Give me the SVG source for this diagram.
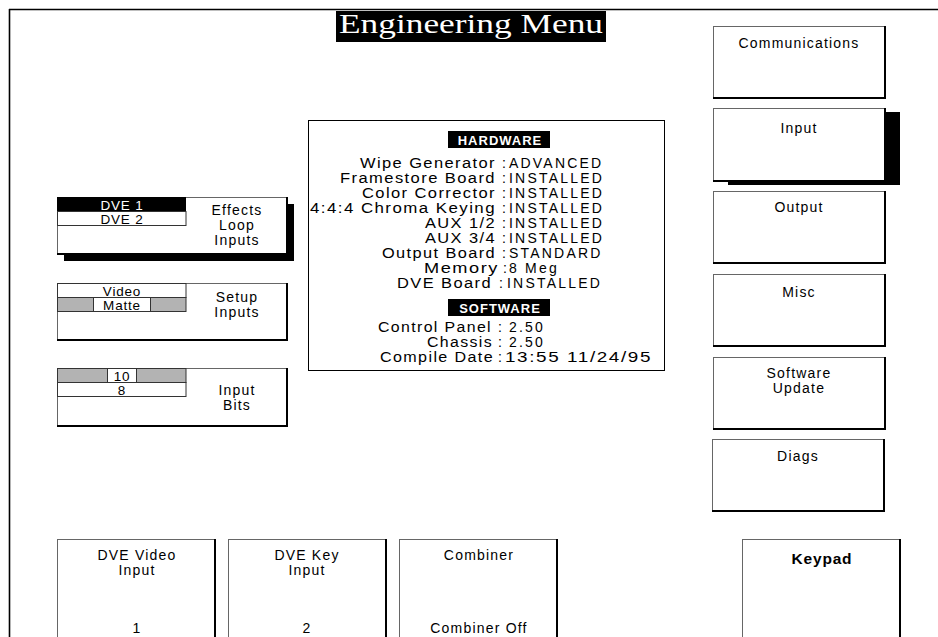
<svg xmlns="http://www.w3.org/2000/svg" width="938" height="637" viewBox="0 0 938 637">
<style>
.frame{fill:none;stroke:#000;stroke-width:1.6}
.box{fill:#fff;stroke:#666;stroke-width:1}
.edge{fill:none;stroke:#000;stroke-width:2}
.shadow{fill:#000}
.lbl{font-family:"Liberation Sans",Arial,sans-serif;font-size:14px;letter-spacing:1.2px;fill:#000;text-anchor:middle}
.cell{font-family:"Liberation Sans",Arial,sans-serif;font-size:13.5px;letter-spacing:0.8px;fill:#000;text-anchor:middle}
.hw{font-family:"Liberation Sans",Arial,sans-serif;font-size:14px;letter-spacing:2.2px;fill:#000}
.fit{letter-spacing:1.2px;font-size:14px}
.tag{font-family:"Liberation Sans",Arial,sans-serif;font-size:13px;font-weight:bold;letter-spacing:1px;fill:#fff;text-anchor:middle}
.row{stroke:#333;stroke-width:1}
.grey{fill:#b3b3b3}
.white{fill:#fff}
</style>

<g id="frame">
<line class="frame" x1="9" y1="9.5" x2="938" y2="9.5"/>
<line class="frame" x1="9.5" y1="9" x2="9.5" y2="637"/>
</g>

<g id="title">
<rect x="336" y="11" width="270" height="31" fill="#000"/>
<text x="339" y="33" font-family="'Liberation Serif',serif" font-size="28" fill="#fff" textLength="264" lengthAdjust="spacingAndGlyphs">Engineering Menu</text>
</g>

<g id="info-panel">
<rect x="308.5" y="120.5" width="356" height="250" fill="#fff" stroke="#000" stroke-width="1"/>
<rect x="448" y="131" width="102" height="17" fill="#000"/>
<text class="tag" x="500" y="144.5">HARDWARE</text>
<g class="hw">
<text class="fit" x="360" y="168" textLength="136" lengthAdjust="spacingAndGlyphs">Wipe Generator</text><text x="502" y="168">:</text><text x="509" y="168">ADVANCED</text>
<text class="fit" x="340" y="183" textLength="156" lengthAdjust="spacingAndGlyphs">Framestore Board</text><text x="502" y="183">:</text><text x="509" y="183">INSTALLED</text>
<text class="fit" x="362" y="198" textLength="134" lengthAdjust="spacingAndGlyphs">Color Corrector</text><text x="502" y="198">:</text><text x="509" y="198">INSTALLED</text>
<text class="fit" x="310" y="213" textLength="186" lengthAdjust="spacingAndGlyphs">4:4:4 Chroma Keying</text><text x="502" y="213">:</text><text x="509" y="213">INSTALLED</text>
<text class="fit" x="425" y="228" textLength="71" lengthAdjust="spacingAndGlyphs">AUX 1/2</text><text x="502" y="228">:</text><text x="509" y="228">INSTALLED</text>
<text class="fit" x="425" y="243" textLength="71" lengthAdjust="spacingAndGlyphs">AUX 3/4</text><text x="502" y="243">:</text><text x="509" y="243">INSTALLED</text>
<text class="fit" x="382" y="258" textLength="114" lengthAdjust="spacingAndGlyphs">Output Board</text><text x="502" y="258">:</text><text x="509" y="258">STANDARD</text>
<text class="fit" x="424" y="273" textLength="75" lengthAdjust="spacingAndGlyphs">Memory</text><text x="503" y="273">:</text><text x="509" y="273">8 Meg</text>
<text class="fit" x="397" y="288" textLength="95" lengthAdjust="spacingAndGlyphs">DVE Board</text><text x="499" y="288">:</text><text x="507" y="288">INSTALLED</text>
</g>
<rect x="448" y="299" width="102" height="17" fill="#000"/>
<text class="tag" x="500" y="312.5">SOFTWARE</text>
<g class="hw">
<text class="fit" x="378" y="332" textLength="114" lengthAdjust="spacingAndGlyphs">Control Panel</text><text x="498" y="332">:</text><text x="509" y="332">2.50</text>
<text class="fit" x="427" y="347" textLength="66" lengthAdjust="spacingAndGlyphs">Chassis</text><text x="498" y="347">:</text><text x="509" y="347">2.50</text>
<text class="fit" x="380" y="362" textLength="114" lengthAdjust="spacingAndGlyphs">Compile Date</text><text x="498" y="362">:</text><text class="fit" x="505" y="362" textLength="147" lengthAdjust="spacingAndGlyphs">13:55 11/24/95</text>
</g>
</g>

<g id="effects-loop-inputs">
<rect class="shadow" x="64" y="204" width="230" height="57"/>
<rect class="box" x="57.5" y="197.5" width="229" height="56"/>
<polyline class="edge" points="287,197 287,254 57,254"/>
<rect x="57" y="197" width="129" height="14" fill="#000"/>
<rect class="row white" x="57.5" y="211.5" width="128.5" height="14"/>
<text class="cell" x="122" y="209.5" style="fill:#fff">DVE 1</text>
<text class="cell" x="122" y="223.5">DVE 2</text>
<text class="lbl" x="237" y="215">Effects</text>
<text class="lbl" x="237" y="230">Loop</text>
<text class="lbl" x="237" y="245">Inputs</text>
</g>

<g id="setup-inputs">
<rect class="box" x="57.5" y="283.5" width="229" height="56"/>
<polyline class="edge" points="287,283 287,340 57,340"/>
<rect class="row white" x="57.5" y="283.5" width="128.5" height="14"/>
<rect class="row grey" x="57.5" y="297.5" width="128.5" height="14"/>
<rect class="row white" x="93.5" y="297.5" width="57" height="14"/>
<text class="cell" x="122" y="295.5">Video</text>
<text class="cell" x="122" y="309.5">Matte</text>
<text class="lbl" x="237" y="302">Setup</text>
<text class="lbl" x="237" y="317">Inputs</text>
</g>

<g id="input-bits">
<rect class="box" x="57.5" y="368.5" width="229" height="57"/>
<polyline class="edge" points="287,368 287,426 57,426"/>
<rect class="row grey" x="57.5" y="368.5" width="128.5" height="14"/>
<rect class="row white" x="107.5" y="368.5" width="29" height="14"/>
<rect class="row white" x="57.5" y="382.5" width="128.5" height="14"/>
<text class="cell" x="122" y="380.5">10</text>
<text class="cell" x="122" y="394.5">8</text>
<text class="lbl" x="237" y="395">Input</text>
<text class="lbl" x="237" y="410">Bits</text>
</g>

<g id="communications">
<rect class="box" x="713.5" y="26.5" width="171" height="71"/>
<polyline class="edge" points="885,26 885,98 713,98"/>
<text class="lbl" x="799" y="48">Communications</text>
</g>

<g id="input">
<rect class="shadow" x="728" y="112" width="172" height="73"/>
<rect class="box" x="713.5" y="108.5" width="171" height="72"/>
<polyline class="edge" points="885,108 885,181 713,181"/>
<text class="lbl" x="799" y="133">Input</text>
</g>

<g id="output">
<rect class="box" x="713.5" y="191.5" width="171" height="71"/>
<polyline class="edge" points="885,191 885,263 713,263"/>
<text class="lbl" x="799" y="212">Output</text>
</g>

<g id="misc">
<rect class="box" x="713.5" y="274.5" width="171" height="71"/>
<polyline class="edge" points="885,274 885,346 713,346"/>
<text class="lbl" x="799" y="297">Misc</text>
</g>

<g id="software-update">
<rect class="box" x="713.5" y="357.5" width="171" height="71"/>
<polyline class="edge" points="885,357 885,429 713,429"/>
<text class="lbl" x="799" y="378">Software</text>
<text class="lbl" x="799" y="393">Update</text>
</g>

<g id="diags">
<rect class="box" x="712.5" y="439.5" width="171" height="71"/>
<polyline class="edge" points="884,439 884,511 712,511"/>
<text class="lbl" x="798" y="461">Diags</text>
</g>

<g id="dve-video-input">
<rect class="box" x="57.5" y="539.5" width="157" height="110"/>
<line class="edge" x1="215" y1="539" x2="215" y2="637"/>
<text class="lbl" x="137" y="560">DVE Video</text>
<text class="lbl" x="137" y="575">Input</text>
<text class="lbl" x="137" y="633">1</text>
</g>

<g id="dve-key-input">
<rect class="box" x="228.5" y="539.5" width="157" height="110"/>
<line class="edge" x1="386" y1="539" x2="386" y2="637"/>
<text class="lbl" x="307" y="560">DVE Key</text>
<text class="lbl" x="307" y="575">Input</text>
<text class="lbl" x="307" y="633">2</text>
</g>

<g id="combiner">
<rect class="box" x="399.5" y="539.5" width="157" height="110"/>
<line class="edge" x1="557" y1="539" x2="557" y2="637"/>
<text class="lbl" x="479" y="560">Combiner</text>
<text class="lbl" x="479" y="633">Combiner Off</text>
</g>

<g id="keypad">
<rect class="box" x="742.5" y="539.5" width="157" height="110"/>
<line class="edge" x1="900" y1="539" x2="900" y2="637"/>
<text class="lbl" x="822" y="564" style="font-weight:bold;font-size:15.5px;letter-spacing:0.8px">Keypad</text>
</g>

<g id="connectors"></g>
</svg>
